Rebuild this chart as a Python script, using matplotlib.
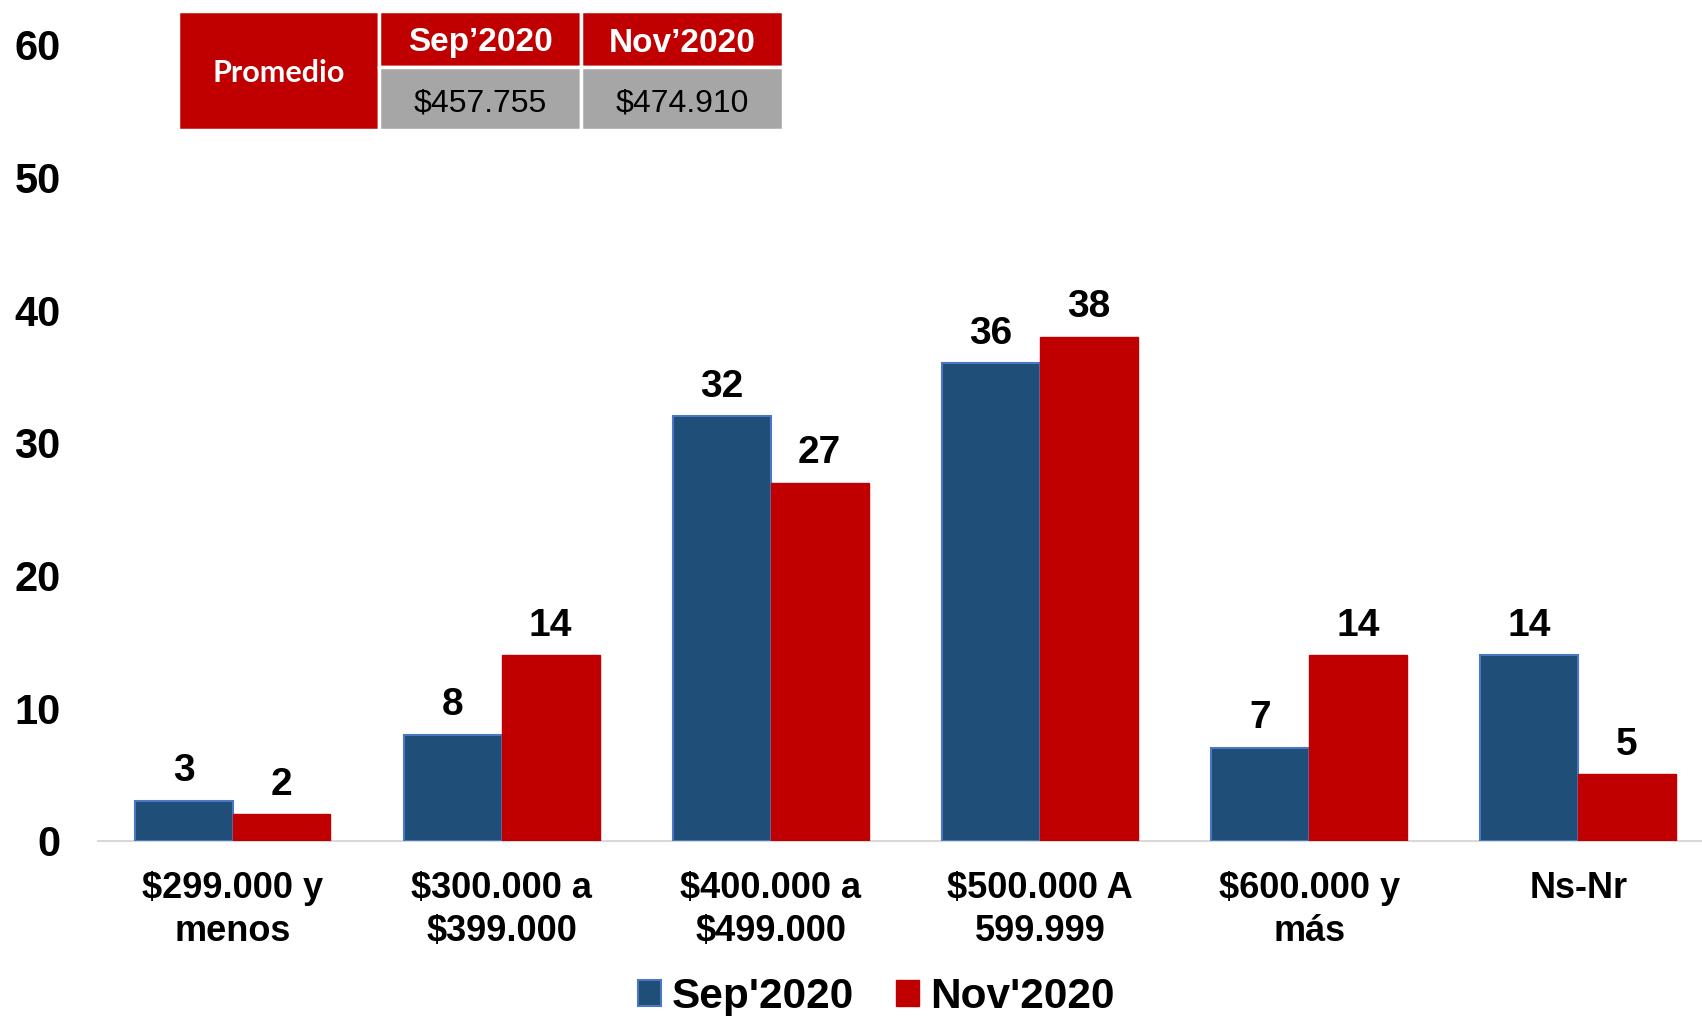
import matplotlib
matplotlib.use("Agg")
import matplotlib.pyplot as plt
from matplotlib.patches import Rectangle, Patch
import numpy as np

plt.rcParams['font.family'] = ['Liberation Sans', 'DejaVu Sans']
plt.rcParams['text.parse_math'] = False

categories = ['$299.000 y\nmenos', '$300.000 a\n$399.000', '$400.000 a\n$499.000',
              '$500.000 A\n599.999', '$600.000 y\nmás', 'Ns-Nr']
sep2020 = [3, 8, 32, 36, 7, 14]
nov2020 = [2, 14, 27, 38, 14, 5]
series_names = ["Sep'2020", "Nov'2020"]
yticks = [0, 10, 20, 30, 40, 50, 60]

table_header = ['Promedio', 'Sep\u20192020', 'Nov\u20192020']
table_values = ['$457.755', '$474.910']

BLUE = '#1f4e79'
BLUE_EDGE = '#4a78c2'
RED = '#c00000'
GREY = '#a6a6a6'

W, H = 1702, 1016
fig = plt.figure(figsize=(W / 100, H / 100), dpi=100)
ax = fig.add_axes([98 / W, 1 - 840.7 / H, 1 - 98 / W, (840.7 - 44.7) / H])

x = np.arange(len(categories))
bw = 0.3635
b1 = ax.bar(x - bw / 2, sep2020, bw, color=BLUE, edgecolor=BLUE_EDGE, linewidth=1.5, zorder=3)
b2 = ax.bar(x + bw / 2, nov2020, bw, color=RED, edgecolor=RED, linewidth=1, zorder=3)

for bars, vals in ((b1, sep2020), (b2, nov2020)):
    for r, v in zip(bars, vals):
        ax.annotate(str(v), (r.get_x() + r.get_width() / 2, v), xytext=(0, 14),
                    textcoords='offset points', ha='center', va='baseline',
                    fontsize=28, fontweight='bold', color='black')

ax.set_xlim(-0.5, 5.46)
ax.set_ylim(0, 60)
ax.set_yticks(yticks)
ax.set_yticklabels([str(t) for t in yticks], fontsize=30, fontweight='bold')
ax.set_xticks(x)
ax.set_xticklabels(categories, fontsize=26, fontweight='bold', linespacing=1.27)
ax.tick_params(axis='y', length=0, pad=27)
ax.tick_params(axis='x', length=0, pad=22)
for s in ('top', 'right', 'left'):
    ax.spines[s].set_visible(False)
ax.spines['bottom'].set_color('#d9d9d9')
ax.spines['bottom'].set_linewidth(1.5)

handles = [Patch(facecolor=BLUE, edgecolor=BLUE_EDGE, linewidth=1.5),
           Patch(facecolor=RED, edgecolor=RED)]
fig.legend(handles, series_names, loc='center', bbox_to_anchor=(876 / W, 1 - 997 / H),
           ncol=2, frameon=False, prop={'size': 30.5, 'weight': 'bold'},
           handlelength=0.55, handleheight=0.55, handletextpad=0.25,
           columnspacing=1.0, borderpad=0, borderaxespad=0)

# Summary table (figure pixel coords -> fractions)
def rect(x0, y0, x1, y1, color):
    fig.patches.append(Rectangle((x0 / W, 1 - y1 / H), (x1 - x0) / W, (y1 - y0) / H,
                                 transform=fig.transFigure, facecolor=color,
                                 edgecolor='white', linewidth=2.5, zorder=5))

cols = [178, 379, 581, 783]
rows = [11, 67, 130]
rect(cols[0], rows[0], cols[1], rows[2], RED)
rect(cols[1], rows[0], cols[2], rows[1], RED)
rect(cols[2], rows[0], cols[3], rows[1], RED)
rect(cols[1], rows[1], cols[2], rows[2], GREY)
rect(cols[2], rows[1], cols[3], rows[2], GREY)

fig.text((cols[0] + cols[1]) / 2 / W, 1 - 73 / H, table_header[0], ha='center', va='center',
         fontsize=22, fontweight='bold', color='white', family=['Lato', 'DejaVu Sans'], zorder=6)
for i in range(2):
    cx = (cols[i + 1] + cols[i + 2]) / 2 / W
    fig.text(cx, 1 - 43 / H, table_header[i + 1], ha='center', va='center', fontsize=24,
             fontweight='bold', color='white', family=['Liberation Sans'], zorder=6)
    fig.text(cx, 1 - 103 / H, table_values[i], ha='center', va='center', fontsize=23,
             color='black', family=['Liberation Sans'], zorder=6)

fig.savefig('out.png', dpi=100)
